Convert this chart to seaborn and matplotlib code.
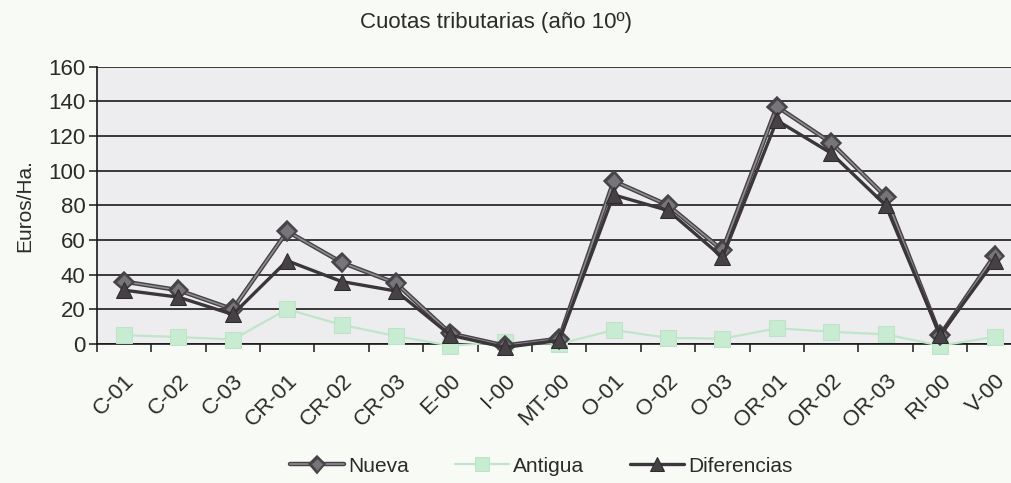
import pandas as pd
import matplotlib.pyplot as plt
import matplotlib.patheffects as pe
import seaborn as sns

# datos (euros/ha)
zonas = ['C-01', 'C-02', 'C-03', 'CR-01', 'CR-02', 'CR-03', 'E-00', 'I-00', 'MT-00',
         'O-01', 'O-02', 'O-03', 'OR-01', 'OR-02', 'OR-03', 'RI-00', 'V-00']
nueva = [36, 31, 20, 65, 47, 35, 6, -1, 3, 94, 80, 54, 137, 116, 85, 5, 51]
antigua = [5, 4, 2.5, 20, 11, 4.5, -1, 1, 0, 8, 3.5, 3, 9, 7, 5.5, -1, 4]
diferencias = [31, 27, 17, 48, 36, 30.5, 5, -2, 2, 86, 77, 50, 129, 110, 80, 5, 48]
y_ticks = [0, 20, 40, 60, 80, 100, 120, 140, 160]

TXT = '#2b2b2b'

sns.set_style('white')
plt.rcParams['font.family'] = ['Liberation Sans Narrow', 'Liberation Sans', 'DejaVu Sans']
plt.rcParams['text.color'] = TXT
plt.rcParams['axes.labelcolor'] = TXT
plt.rcParams['xtick.color'] = TXT
plt.rcParams['ytick.color'] = TXT

df = pd.DataFrame({'pos': range(len(zonas)), 'zona': zonas,
                   'Nueva': nueva, 'Antigua': antigua, 'Diferencias': diferencias})

fig = plt.figure(figsize=(10.12, 4.83), dpi=100, facecolor='#f8faf6')
ax = fig.add_axes([0.0956, 0.288, 0.914, 0.574])
ax.set_facecolor('#ededf0')

sns.lineplot(data=df, x='pos', y='Antigua', ax=ax, color='#bfe6c8', lw=1.6,
             marker='s', markersize=12, markerfacecolor='#c8ecd2', markeredgecolor='#bfe3c8',
             label='Antigua', clip_on=False, zorder=3)
sns.lineplot(data=df, x='pos', y='Nueva', ax=ax, color='#8e8c91', lw=1.2,
             marker='D', markersize=8, markerfacecolor='#77757a', markeredgecolor='#4d4a4f',
             label='Nueva', clip_on=False, zorder=4,
             path_effects=[pe.Stroke(linewidth=3.2, foreground='#464246'), pe.Normal()])
sns.lineplot(data=df, x='pos', y='Diferencias', ax=ax, color='#3a3639', lw=2.4,
             marker='^', markersize=12, markerfacecolor='#464145', markeredgecolor='#2e2a2d',
             label='Diferencias', clip_on=False, zorder=5)

ax.set_xlim(-0.5, len(zonas) - 0.5)
ax.set_ylim(0, 160)
ax.set_yticks(y_ticks)
ax.yaxis.grid(True, color='#1a1a1a', lw=1.2)
ax.set_axisbelow(True)

# marcas entre categorías, etiquetas centradas en cada categoría
ax.set_xticks([i - 0.5 for i in range(len(zonas))], minor=False)
ax.set_xticklabels([])
ax.set_xticks(range(len(zonas)), minor=True)
ax.set_xticklabels(zonas, minor=True, rotation=45, ha='right', va='top',
                   rotation_mode='anchor', fontsize=16)
ax.tick_params(axis='x', which='minor', length=0, pad=19)
ax.tick_params(axis='x', which='major', direction='out', length=6, width=1.2, bottom=True)
ax.tick_params(axis='y', direction='out', length=6, width=1.2, left=True, labelsize=16, pad=2)

for s in ['top', 'right']:
    ax.spines[s].set_visible(False)
ax.spines['left'].set_color('#1a1a1a')
ax.spines['bottom'].set_color('#1a1a1a')
ax.spines['left'].set_linewidth(1.2)
ax.spines['bottom'].set_linewidth(1.2)

ax.set_xlabel('')
ax.set_ylabel('Euros/Ha.', fontsize=15, labelpad=10)
fig.suptitle('Cuotas tributarias (año 10º)', x=0.49, y=0.975, fontsize=16)

h, l = ax.get_legend_handles_labels()
order = [l.index('Nueva'), l.index('Antigua'), l.index('Diferencias')]
ax.legend([h[i] for i in order], [l[i] for i in order], loc='center',
          bbox_to_anchor=(0.535, 0.035), bbox_transform=fig.transFigure, ncol=3,
          frameon=False, fontsize=15, handlelength=2.6, columnspacing=2.2, handletextpad=0.2,
          markerscale=0.8)

fig.savefig('out.png', dpi=100, facecolor=fig.get_facecolor())
